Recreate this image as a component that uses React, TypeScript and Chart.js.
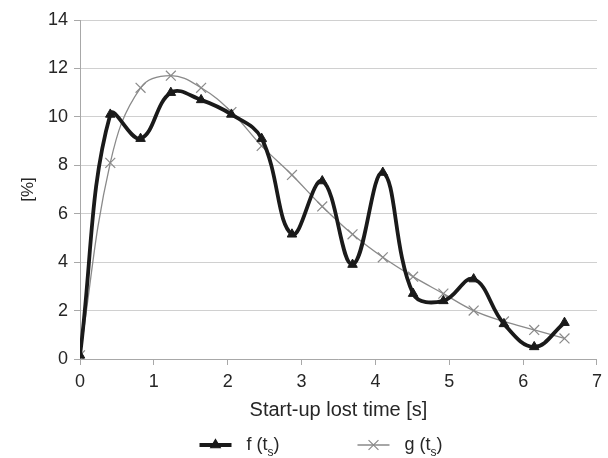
import { useEffect, useRef } from "react";
import { Chart, registerables } from "chart.js";

Chart.register(...registerables);

const xValues = [0, 0.41, 0.82, 1.23, 1.64, 2.05, 2.46, 2.87, 3.28, 3.69, 4.1, 4.51, 4.92, 5.33, 5.74, 6.15, 6.56];
const fValues = [0.15, 10.1, 9.1, 11.0, 10.7, 10.1, 9.1, 5.15, 7.35, 3.9, 7.7, 2.7, 2.4, 3.3, 1.45, 0.5, 1.5];
const gValues = [0.15, 8.1, 11.2, 11.7, 11.2, 10.2, 8.8, 7.6, 6.3, 5.15, 4.2, 3.4, 2.7, 2.0, 1.55, 1.2, 0.85];
const seriesLabels = ["f (t_s)", "g (t_s)"];
const xTicks = [0, 1, 2, 3, 4, 5, 6, 7];
const yTicks = [0, 2, 4, 6, 8, 10, 12, 14];
const xTitle = "Start-up lost time [s]";
const yTitle = "[%]";

const FONT = "'Liberation Sans', Arial, sans-serif";
const TEXT = "#262626";
const F_COLOR = "#1a1a1a";
const G_COLOR = "#8a8a8a";
const AXIS = "#a8a8a8";
const GRID = "#d0d0d0";
const LEGEND_SIZE = 18;

function drawMarker(ctx: CanvasRenderingContext2D, style: string, x: number, y: number, r: number, color: string) {
  ctx.save();
  ctx.fillStyle = color;
  ctx.strokeStyle = color;
  ctx.lineWidth = 1.2;
  ctx.beginPath();
  if (style === "triangle") {
    for (let k = 0; k < 3; k++) {
      const a = (k * 2 * Math.PI) / 3;
      const px = x + Math.sin(a) * r;
      const py = y - Math.cos(a) * r;
      if (k === 0) ctx.moveTo(px, py);
      else ctx.lineTo(px, py);
    }
    ctx.closePath();
    ctx.fill();
    ctx.stroke();
  } else {
    const d = r * Math.SQRT1_2;
    ctx.moveTo(x - d, y - d);
    ctx.lineTo(x + d, y + d);
    ctx.moveTo(x + d, y - d);
    ctx.lineTo(x - d, y + d);
    ctx.stroke();
  }
  ctx.restore();
}

function measureLabel(ctx: CanvasRenderingContext2D, label: string) {
  const [base, rest] = label.split("_");
  ctx.font = `${LEGEND_SIZE}px ${FONT}`;
  let w = ctx.measureText(base).width;
  if (rest) {
    ctx.font = `${Math.round(LEGEND_SIZE * 0.65)}px ${FONT}`;
    w += ctx.measureText(rest[0]).width;
    ctx.font = `${LEGEND_SIZE}px ${FONT}`;
    w += ctx.measureText(rest.slice(1)).width;
  }
  return w;
}

function drawLabel(ctx: CanvasRenderingContext2D, label: string, x: number, y: number) {
  const [base, rest] = label.split("_");
  ctx.save();
  ctx.fillStyle = TEXT;
  ctx.textBaseline = "middle";
  ctx.textAlign = "left";
  ctx.font = `${LEGEND_SIZE}px ${FONT}`;
  ctx.fillText(base, x, y);
  let cx = x + ctx.measureText(base).width;
  if (rest) {
    ctx.font = `${Math.round(LEGEND_SIZE * 0.65)}px ${FONT}`;
    ctx.fillText(rest[0], cx, y + 8);
    cx += ctx.measureText(rest[0]).width;
    ctx.font = `${LEGEND_SIZE}px ${FONT}`;
    ctx.fillText(rest.slice(1), cx, y);
  }
  ctx.restore();
}

const legendPlugin = {
  id: "lineMarkerLegend",
  afterDraw(chart: any) {
    const ctx: CanvasRenderingContext2D = chart.ctx;
    const markerW = 32;
    const gapText = 15;
    const gapItem = 78;
    const y = chart.height - 13;
    const items = chart.data.datasets.map((ds: any) => ({
      label: ds.label as string,
      color: ds.borderColor as string,
      width: ds.borderWidth as number,
      style: ds.pointStyle as string,
      r: ds.pointRadius as number,
    }));
    const widths = items.map((it: any) => markerW + gapText + measureLabel(ctx, it.label));
    const total = widths.reduce((a: number, b: number) => a + b, 0) + gapItem * (items.length - 1);
    let x = chart.width / 2 + 17 - total / 2;
    items.forEach((it: any, i: number) => {
      ctx.save();
      ctx.strokeStyle = it.color;
      ctx.lineWidth = it.width;
      ctx.beginPath();
      ctx.moveTo(x, y);
      ctx.lineTo(x + markerW, y);
      ctx.stroke();
      ctx.restore();
      drawMarker(ctx, it.style, x + markerW / 2, y, it.r, it.color);
      drawLabel(ctx, it.label, x + markerW + gapText, y);
      x += widths[i] + gapItem;
    });
  },
};

export default function App() {
  const ref = useRef<HTMLCanvasElement>(null);
  useEffect(() => {
    document.body.style.margin = "0";
    const chart = new Chart(ref.current!, {
      type: "line",
      data: {
        datasets: [
          {
            label: seriesLabels[0],
            data: xValues.map((x, i) => ({ x, y: fValues[i] })),
            borderColor: F_COLOR,
            backgroundColor: F_COLOR,
            borderWidth: 3.8,
            tension: 0.4,
            pointStyle: "triangle",
            pointRadius: 5.5,
            pointBorderWidth: 1,
            pointBackgroundColor: F_COLOR,
            pointBorderColor: F_COLOR,
          },
          {
            label: seriesLabels[1],
            data: xValues.map((x, i) => ({ x, y: gValues[i] })),
            borderColor: G_COLOR,
            backgroundColor: G_COLOR,
            borderWidth: 1.3,
            tension: 0.4,
            pointStyle: "crossRot",
            pointRadius: 7,
            pointBorderWidth: 1.2,
            pointBackgroundColor: G_COLOR,
            pointBorderColor: G_COLOR,
          },
        ],
      } as any,
      options: {
        animation: false,
        responsive: false,
        maintainAspectRatio: false,
        layout: { padding: { left: 0, right: 10, top: 20, bottom: 28 } },
        plugins: { legend: { display: false }, tooltip: { enabled: false } },
        scales: {
          x: {
            type: "linear",
            min: 0,
            max: 7,
            afterFit: (s: any) => {
              s.height = 71;
            },
            afterBuildTicks: (s: any) => {
              s.ticks = xTicks.map((v) => ({ value: v }));
            },
            ticks: { color: TEXT, font: { family: FONT, size: 18 }, padding: 6, maxRotation: 0 },
            grid: { drawOnChartArea: false, drawTicks: true, tickLength: 6, tickColor: AXIS },
            border: { color: AXIS, width: 1 },
            title: {
              display: true,
              text: xTitle,
              color: TEXT,
              font: { family: FONT, size: 20 },
              padding: { top: 0, bottom: 8 },
            },
          },
          y: {
            type: "linear",
            min: 0,
            max: 14,
            afterFit: (s: any) => {
              s.width = 80;
            },
            afterBuildTicks: (s: any) => {
              s.ticks = yTicks.map((v) => ({ value: v }));
            },
            ticks: { color: TEXT, font: { family: FONT, size: 18 }, padding: 6 },
            grid: { color: GRID, drawTicks: true, tickLength: 6, tickColor: AXIS },
            border: { color: AXIS, width: 1 },
            title: {
              display: true,
              text: yTitle,
              color: TEXT,
              font: { family: FONT, size: 17 },
              padding: { top: 18, bottom: 0 },
            },
          },
        },
      } as any,
      plugins: [legendPlugin],
    });
    return () => chart.destroy();
  }, []);
  return (
    <div style={{ width: 608, height: 458 }}>
      <canvas ref={ref} width={608} height={458} style={{ display: "block" }} />
    </div>
  );
}
